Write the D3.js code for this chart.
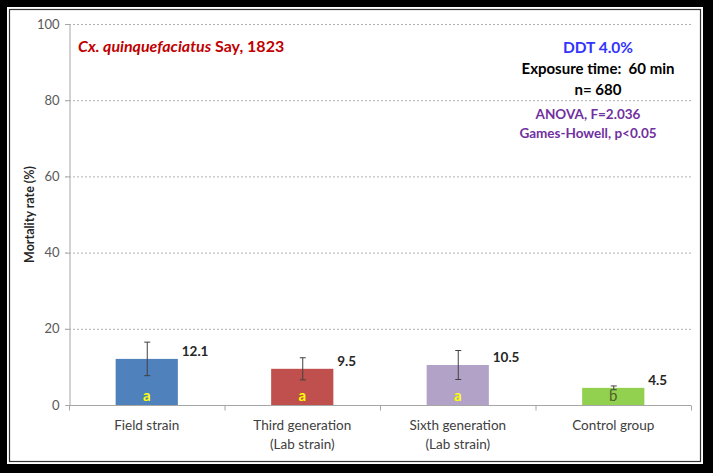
<!DOCTYPE html>
<html><head><meta charset="utf-8">
<script src="https://cdn.jsdelivr.net/npm/d3@7"></script>
<style>body{margin:0;background:#000;}svg{display:block;}</style>
</head><body>
<script>
const categories = [["Field strain"], ["Third generation", "(Lab strain)"], ["Sixth generation", "(Lab strain)"], ["Control group"]];
const values = [12.1, 9.5, 10.5, 4.5];
const errors = [4.4, 2.9, 3.8, 0.5];
const letters = ["a", "a", "a", "b"];
const yTicks = [0, 20, 40, 60, 80, 100];
const barColors = ["#4f81bd", "#c0504d", "#b3a2c7", "#92d050"];
const letterColors = ["#ffff00", "#ffff00", "#ffff00", "#4f6228"];

const W = 713, H = 473;
const svg = d3.select("body").append("svg").attr("width", W).attr("height", H);
svg.append("rect").attr("width", W).attr("height", H).attr("fill", "#000");
svg.append("rect").attr("x", 7).attr("y", 7).attr("width", 696).attr("height", 457).attr("fill", "#fff");
svg.append("rect").attr("x", 9.5).attr("y", 9.5).attr("width", 691).attr("height", 452)
  .attr("fill", "none").attr("stroke", "#333").attr("stroke-width", 1.2);

const font = "Lato, 'Open Sans', sans-serif";
const x0 = 69, x1 = 691, yTop = 24, yBot = 405;
const x = d3.scaleBand().domain(d3.range(categories.length)).range([x0, x1]).paddingInner(0).paddingOuter(0);
const y = d3.scaleLinear().domain([0, 100]).range([yBot, yTop]);

// gridlines
svg.append("g").selectAll("line").data(yTicks.filter(d => d > 0)).join("line")
  .attr("x1", x0 - 4).attr("x2", x1).attr("y1", d => y(d) + 0.5).attr("y2", d => y(d) + 0.5)
  .attr("stroke", "#b0b0b0").attr("stroke-width", 1).attr("stroke-dasharray", "2,2");

// y axis
const yAxis = svg.append("g").attr("transform", `translate(${x0 + 0.5},0)`)
  .call(d3.axisLeft(y).tickValues(yTicks).tickSize(4).tickPadding(6));
yAxis.select(".domain").attr("stroke", "#a6a6a6");
yAxis.selectAll(".tick line").attr("stroke", "#a6a6a6");
yAxis.selectAll("text").attr("font-family", font).attr("font-size", 13).attr("fill", "#595959");

// x axis
const xAxis = svg.append("g").attr("transform", `translate(0,${yBot + 0.5})`);
xAxis.append("line").attr("x1", x0).attr("x2", x1).attr("stroke", "#a6a6a6");
xAxis.selectAll("line.tk").data(d3.range(categories.length + 1)).join("line").attr("class", "tk")
  .attr("x1", i => (i < categories.length ? x(i) : x1) + 0.5).attr("x2", i => (i < categories.length ? x(i) : x1) + 0.5)
  .attr("y1", 0).attr("y2", 5).attr("stroke", "#a6a6a6");
categories.forEach((lines, i) => {
  lines.forEach((t, j) => {
    xAxis.append("text").attr("x", x(i) + x.bandwidth() / 2).attr("y", 24 + j * 19)
      .attr("text-anchor", "middle").attr("font-family", font).attr("font-size", 13.5)
      .attr("fill", "#404040").text(t);
  });
});

// bars
const bw = x.bandwidth() * 0.4;
const cx = i => x(i) + x.bandwidth() / 2;
svg.append("g").selectAll("rect").data(values).join("rect")
  .attr("x", (d, i) => cx(i) - bw / 2).attr("y", d => y(d)).attr("width", bw).attr("height", d => y(0) - y(d))
  .attr("fill", (d, i) => barColors[i]);

// error bars
const eg = svg.append("g").attr("stroke", "#404040").attr("stroke-width", 1);
values.forEach((v, i) => {
  const c = cx(i) + 0.5;
  eg.append("line").attr("x1", c).attr("x2", c).attr("y1", y(v + errors[i])).attr("y2", y(v - errors[i]));
  eg.append("line").attr("x1", c - 3).attr("x2", c + 3).attr("y1", y(v + errors[i])).attr("y2", y(v + errors[i]));
  eg.append("line").attr("x1", c - 3).attr("x2", c + 3).attr("y1", y(v - errors[i])).attr("y2", y(v - errors[i]));
});

// value labels
svg.append("g").selectAll("text").data(values).join("text")
  .attr("x", (d, i) => cx(i) + 35).attr("y", d => y(d) - 3)
  .attr("font-family", font).attr("font-size", 13.5).attr("font-weight", "bold").attr("fill", "#262626")
  .text(d => d.toFixed(1));

// letters
svg.append("g").selectAll("text").data(letters).join("text")
  .attr("x", (d, i) => cx(i)).attr("y", yBot - 4).attr("text-anchor", "middle")
  .attr("font-family", font).attr("font-size", 15).attr("font-weight", (d, i) => i === 3 ? "normal" : "bold")
  .attr("fill", (d, i) => letterColors[i]).text(d => d);

// y label
svg.append("text").attr("transform", `translate(34,${(yTop + yBot) / 2}) rotate(-90)`)
  .attr("text-anchor", "middle").attr("font-family", font).attr("font-size", 12.5).attr("font-weight", "bold")
  .attr("fill", "#262626").text("Mortality rate (%)");

// species title
const tt = svg.append("text").attr("x", 78).attr("y", 52).attr("font-family", font).attr("font-size", 16)
  .attr("font-weight", "bold").attr("fill", "#c00000");
tt.append("tspan").attr("font-style", "italic").text("Cx. quinquefaciatus");
tt.append("tspan").text(" Say, 1823");

// right annotations
const ann = [
  {t: "DDT 4.0%", cx: 598, y: 53, c: "#3333ff", s: 15.5, w: "bold"},
  {t: "Exposure time:  60 min", cx: 598, y: 74, c: "#000", s: 15, w: "bold"},
  {t: "n= 680", cx: 598, y: 95, c: "#000", s: 15, w: "bold"},
  {t: "ANOVA, F=2.036", cx: 588, y: 119, c: "#7030a0", s: 13.5, w: "bold"},
  {t: "Games-Howell, p<0.05", cx: 588, y: 138, c: "#7030a0", s: 13.5, w: "bold"}
];
svg.append("g").selectAll("text").data(ann).join("text")
  .attr("x", d => d.cx).attr("y", d => d.y).attr("text-anchor", "middle")
  .attr("font-family", font).attr("font-size", d => d.s).attr("font-weight", d => d.w)
  .attr("fill", d => d.c).attr("xml:space", "preserve").style("white-space", "pre").text(d => d.t);
</script>
</body></html>
